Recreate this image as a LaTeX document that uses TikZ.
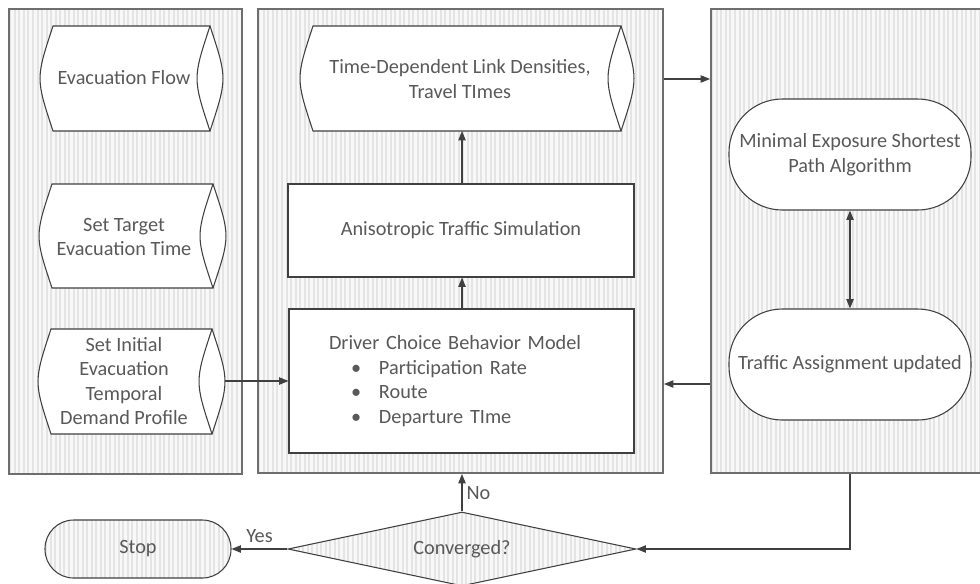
\documentclass[tikz,border=0pt]{standalone}
\usepackage{fontspec}
\setmainfont{Carlito}
\usetikzlibrary{shapes.geometric,arrows.meta,calc}

\definecolor{inkgray}{HTML}{404040}
\definecolor{txtgray}{HTML}{595959}
\definecolor{panelline}{HTML}{6E6E6E}
\definecolor{stripebg}{HTML}{F8F8F8}
\definecolor{stripecol}{HTML}{E4E4E4}

% horizontal storage cylinder: left corner x, right corner x, top y, bottom y, bulge
\newcommand\storagecyl[5]{%
  \fill[white] (#1,#3) .. controls ({#1-1.33*#5},{(#3+#4)/2}) .. (#1,#4) -- (#2,#4)
     .. controls ({#2+1.33*#5},{(#3+#4)/2}) .. (#2,#3) -- cycle;
  \draw[shapeline] (#1,#3) .. controls ({#1-1.33*#5},{(#3+#4)/2}) .. (#1,#4) -- (#2,#4)
     .. controls ({#2-1.33*#5},{(#3+#4)/2}) .. (#2,#3) -- cycle;
  \draw[shapeline] (#2,#3) .. controls ({#2+1.33*#5},{(#3+#4)/2}) .. (#2,#4);
}

\tikzset{
  striped/.style={fill=stripebg, path picture={
      \foreach \i in {0,...,140}
        \draw[stripecol, line width=1.5pt]
          ([xshift=\i*3.4pt+1pt]path picture bounding box.north west) --
          ([xshift=\i*3.4pt+1pt]path picture bounding box.south west);}},
  panel/.style={rectangle, draw=panelline, line width=1.5pt, striped, inner sep=0pt},
  shapeline/.style={draw=inkgray, line width=0.8pt},
  txt/.style={text=txtgray, font=\fontsize{15.2}{18.3}\selectfont, align=center, inner sep=0pt},
  procbox/.style={rectangle, shapeline, fill=white, txt},
  stadium/.style={rectangle, rounded corners=40pt, shapeline, fill=white, txt},
  conn/.style={draw=inkgray, line width=0.8pt},
  arr/.style={conn, -{Triangle[length=7pt,width=5.5pt]}},
  dblarr/.style={conn, {Triangle[length=7pt,width=5.5pt]}-{Triangle[length=7pt,width=5.5pt]}},
}

\begin{document}
\begin{tikzpicture}[x=0.75pt, y=-0.75pt]
\useasboundingbox (0,0) rectangle (980,583);
\fill[white] (0,0) rectangle (980,583);

% the three panels
\node[panel, minimum width=174.75pt, minimum height=348.75pt] (leftpanel) at (125.5,241.5) {};
\node[panel, minimum width=303.75pt, minimum height=348pt] (midpanel) at (460.5,241) {};
\node[panel, minimum width=213pt, minimum height=348pt] (rightpanel) at (853,241) {};

% input data stores
\storagecyl{53}{210}{26}{131}{13}
\node[txt] (evacflow) at (124,78) {Evacuation Flow};
\storagecyl{52}{213}{184}{288}{13}
\node[txt] (target) at (124,237) {Set Target\\Evacuation Time};
\storagecyl{51}{212}{329}{434}{13}
\node[txt] (initial) at (124,381) {Set Initial\\Evacuation\\Temporal\\Demand Profile};
\coordinate (initialout) at (225,381);

% simulation chain
\storagecyl{313}{621}{26}{131}{13}
\node[txt] (densities) at (460,79) {Time-Dependent Link Densities,\\Travel TImes};
\coordinate (densbottom) at (462,131);
\node[procbox, minimum width=259.5pt, minimum height=69.75pt] (aniso) at (461,230.5)
  {Anisotropic Traffic Simulation};
\node[procbox, minimum width=258.75pt, minimum height=108pt, align=left,
      text width=198.75pt, inner xsep=30pt] (driver) at (461.5,381)
  {Driver Choice Behavior Model\\
   \hspace*{16.5pt}\makebox[21pt][l]{\textbullet}Participation Rate\\
   \hspace*{16.5pt}\makebox[21pt][l]{\textbullet}Route\\
   \hspace*{16.5pt}\makebox[21pt][l]{\textbullet}Departure TIme};

% routing panel
\node[stadium, minimum width=181.5pt, minimum height=83.25pt] (minexp) at (850,154.5)
  {Minimal Exposure Shortest\\Path Algorithm};
\node[stadium, minimum width=181.5pt, minimum height=83.25pt] (assign) at (850,364.5)
  {Traffic Assignment updated};

% convergence test and stop
\node[diamond, aspect=4.7, striped, shapeline, txt, minimum width=261pt, minimum height=55.5pt]
  (conv) at (462,549) {Converged?};
\node[rectangle, rounded corners=21.5pt, striped, shapeline, txt,
      minimum width=139.5pt, minimum height=43.5pt] (stop) at (138,549) {Stop};

% connectors
\draw[arr] (aniso.north -| densbottom) -- (densbottom);
\draw[arr] (driver.north -| densbottom) -- (aniso.south -| densbottom);
\draw[arr] (initialout) -- (driver.west |- initialout);
\draw[arr] (midpanel.east |- densities) -- (rightpanel.west |- densities);
\coordinate (feedback) at (687,384);
\draw[arr] (rightpanel.west |- feedback) -- (midpanel.east |- feedback);
\draw[dblarr] (minexp.south) -- (assign.north);
\draw[arr] (assign |- rightpanel.south) |- (conv.east);
\draw[arr] (conv.north) -- (conv.north |- midpanel.south)
  node[txt, midway, right=3pt] {No};
\draw[arr] (conv.west) -- (stop.east)
  node[txt, midway, above=4pt] {Yes};
\end{tikzpicture}
\end{document}
